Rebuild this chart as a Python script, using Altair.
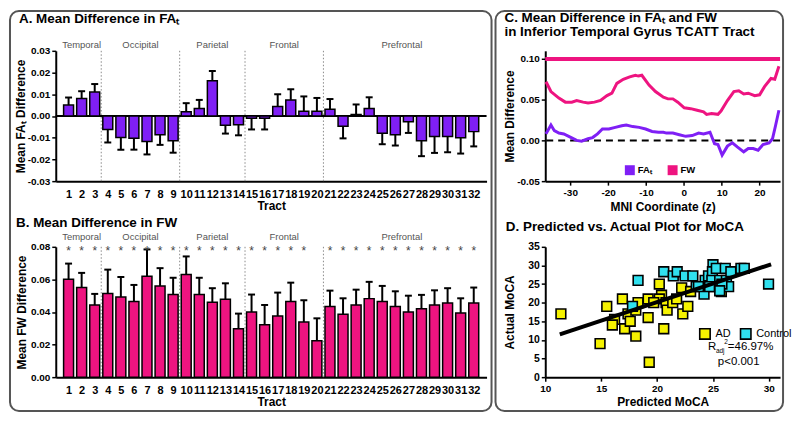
import altair as alt
import pandas as pd

# ---------------- data ----------------
tracts = list(range(1, 33))
fa_mean = [0.0050, 0.0080, 0.0110, -0.0062, -0.0099, -0.0103, -0.0118, -0.0086, -0.0114,
           0.0019, 0.0034, 0.0162, -0.0043, -0.0040, -0.0010, -0.0010, 0.0044, 0.0074,
           0.0022, 0.0022, 0.0031, -0.0047, 0.0007, 0.0034, -0.0080, -0.0086, -0.0027,
           -0.0114, -0.0095, -0.0095, -0.0100, -0.0072]
fa_err = [0.0035, 0.0034, 0.0037, 0.0060, 0.0056, 0.0052, 0.0059, 0.0047, 0.0055,
          0.0040, 0.0040, 0.0045, 0.0038, 0.0049, 0.0052, 0.0052, 0.0056, 0.0049,
          0.0068, 0.0061, 0.0047, 0.0056, 0.0046, 0.0052, 0.0050, 0.0050, 0.0051,
          0.0071, 0.0075, 0.0072, 0.0073, 0.0068]
fw_mean = [0.0601, 0.0550, 0.0443, 0.0513, 0.0492, 0.0464, 0.0620, 0.0560, 0.0507,
           0.0630, 0.0507, 0.0459, 0.0478, 0.0297, 0.0400, 0.0322, 0.0375, 0.0464,
           0.0338, 0.0224, 0.0433, 0.0386, 0.0443, 0.0482, 0.0464, 0.0433, 0.0400,
           0.0420, 0.0443, 0.0455, 0.0394, 0.0455]
fw_err = [0.0096, 0.0090, 0.0068, 0.0147, 0.0123, 0.0102, 0.0164, 0.0109, 0.0103,
          0.0111, 0.0103, 0.0087, 0.0098, 0.0093, 0.0107, 0.0121, 0.0144, 0.0116,
          0.0134, 0.0137, 0.0098, 0.0098, 0.0094, 0.0103, 0.0096, 0.0094, 0.0100,
          0.0085, 0.0090, 0.0091, 0.0090, 0.0095]
fw_significant = [1] * 19 + [0] + [1] * 12

region_names = ["Temporal", "Occipital", "Parietal", "Frontal", "Prefrontal"]
region_first = [1, 4, 10, 15, 21]
region_last = [3, 9, 14, 20, 32]

# Panel C: mean difference along the inferior temporal gyrus tract
fw_z = [-36.4, -35.1, -33.0, -31.3, -29.6, -28.3, -26.6, -25.3, -23.6, -22.0, -20.3, -19.0,
        -17.7, -16.0, -14.3, -12.8, -12.0, -11.1, -9.2, -7.5, -5.4, -4.2, -2.9, -1.6, 0.1,
        1.8, 3.5, 5.2, 6.0, 7.3, 9.0, 9.8, 11.5, 13.2, 14.5, 15.8, 17.0, 18.7, 20.0, 21.3,
        23.0, 24.0, 25.1]
fw_val = [0.072, 0.060, 0.052, 0.047, 0.047, 0.049, 0.047, 0.046, 0.047, 0.049, 0.055, 0.058,
          0.070, 0.075, 0.078, 0.080, 0.079, 0.080, 0.068, 0.060, 0.053, 0.051, 0.051, 0.047,
          0.040, 0.039, 0.037, 0.035, 0.032, 0.033, 0.032, 0.036, 0.049, 0.060, 0.061, 0.057,
          0.058, 0.055, 0.056, 0.066, 0.076, 0.075, 0.091]
fa_z = [-36.4, -35.1, -34.2, -33.0, -31.7, -30.0, -28.3, -27.0, -25.3, -24.1, -22.8, -21.5,
        -19.8, -18.1, -16.4, -15.2, -13.5, -11.8, -10.1, -8.4, -6.7, -5.4, -4.6, -2.9, -1.2,
        0.5, 2.2, 3.9, 5.2, 6.9, 8.1, 9.0, 10.1, 11.5, 12.8, 14.1, 15.8, 17.0, 18.3, 19.6,
        20.9, 22.5, 23.4, 24.2, 25.1]
fa_val = [0.008, 0.019, 0.012, 0.009, 0.008, 0.004, 0.000, -0.001, 0.002, 0.0035, 0.008, 0.014,
          0.014, 0.016, 0.018, 0.019, 0.017, 0.016, 0.014, 0.011, 0.010, 0.010, 0.009, 0.009,
          0.007, 0.005, 0.006, 0.009, 0.008, 0.010, -0.004, -0.005, -0.018, -0.007, -0.003,
          -0.008, -0.014, -0.010, -0.010, -0.012, -0.005, -0.003, 0.002, 0.018, 0.037]
sig_level = [0.10]

# Panel D: predicted vs actual MoCA
ad_pred = [11.4, 15.5, 14.9, 16.2, 16.0, 16.9, 17.1, 17.4, 17.6, 18.1, 18.1, 18.3, 19.2, 19.2,
           19.3, 20.2, 20.4, 20.6, 20.2, 20.8, 20.9, 21.4, 21.75, 22.3, 22.2, 22.75, 23.0,
           25.75, 19.7]
ad_actual = [17, 19, 9, 15.5, 14, 21, 13, 17, 15, 11, 18, 20, 21, 16,
             4, 25, 22, 13, 21, 20, 18, 20, 21, 17, 24, 19, 23,
             23, 20]
ctrl_pred = [18.3, 17.8, 20.6, 21.45, 21.8, 22.5, 23.2, 23.5, 24.2, 24.3, 24.6, 25.0, 24.95,
             25.3, 24.9, 25.1, 25.6, 26.1, 26.2, 26.4, 26.6, 27.5, 27.8, 29.97, 25.8, 25.6,
             23.7, 24.7]
ctrl_actual = [26, 19, 28.3, 27.2, 28.3, 27.2, 27.2, 24.3, 22.3, 26, 27.2, 30.2, 28.3,
               29.2, 26, 24.3, 26, 29.2, 26, 24.3, 28.3, 29.2, 29.2, 25, 25, 23.2,
               24.3, 24.3]
fit_pred = [11.3, 30.2]
fit_actual = [11.5, 30.3]

# ---------------- styling ----------------
PURPLE = "#7F1FF5"
PINK = "#EE1480"
YELLOW = "#F5F200"
CYAN = "#30E0EE"
GREY = "#555555"
FRAME = "#555555"
MINUS_FIX = "replace(datum.label, '\u2212', '-')"

LW = 433      # width of panels A/B
RW = 236      # width of panels C/D
PH = 131      # height of each plot area
FRAME_TOP = -40
FRAME_BOTTOM = 362

tract_df = pd.DataFrame({"tract": tracts, "fa": fa_mean, "fa_err": fa_err,
                         "fw": fw_mean, "fw_err": fw_err, "sig": fw_significant})
tract_df["fa_end"] = [m + (e if m >= 0 else -e) for m, e in zip(fa_mean, fa_err)]
tract_df["fw_end"] = tract_df["fw"] + tract_df["fw_err"]
tract_df["zero"] = 0.0
region_df = pd.DataFrame({"name": region_names,
                          "tract": [(a + b) / 2 for a, b in zip(region_first, region_last)]})
sep_df = pd.DataFrame({"tract": [f - 0.5 for f in region_first[1:]]})
star_df = tract_df[tract_df["sig"] == 1].assign(star="*")
one_row = pd.DataFrame({"k": [0], "zero": [0.0]})

x_scale = alt.Scale(domain=[0.4, 32.6], nice=False, zero=False)
x_axis = alt.Axis(values=tracts, tickCount=40, title="Tract", tickSize=0, labelFontSize=11,
                  labelFlush=False, labelOverlap=False, labelPadding=7, titlePadding=1)


def frame(x1, x2, y1, y2):
    return alt.Chart(one_row).mark_rect(fill="transparent", stroke=FRAME, strokeWidth=2,
                                        cornerRadius=9).encode(
        x=alt.value(x1), x2=alt.value(x2), y=alt.value(y1), y2=alt.value(y2))


def bar_panel(col, end_col, ydom, yvals, ytitle, title, color, label_dy, zero_line,
              stars, ytitle_pad, with_frame):
    xe = alt.X("tract:Q", scale=x_scale, axis=x_axis)
    y_scale = alt.Scale(domain=ydom, nice=False, zero=False)
    y_axis = alt.Axis(values=yvals, tickCount=20, format=".2f", title=ytitle,
                      titlePadding=ytitle_pad, labelExpr=MINUS_FIX, labelOverlap=False)
    layers = []
    if with_frame:
        layers.append(frame(-46, LW + 5, FRAME_TOP, FRAME_BOTTOM))
    layers.append(alt.Chart(sep_df).mark_rule(strokeDash=[1.5, 2], color="#8a8a8a",
                                              strokeWidth=1).encode(x=xe))
    if zero_line:
        layers.append(alt.Chart(one_row).mark_rule(color="black", strokeWidth=2)
                      .encode(y=alt.Y("zero:Q", scale=y_scale, axis=y_axis)))
    layers += [
        alt.Chart(tract_df).mark_rule(color="black", strokeWidth=2).encode(
            x=xe, y=alt.Y(f"{col}:Q", scale=y_scale, axis=y_axis), y2=f"{end_col}:Q"),
        alt.Chart(tract_df).mark_tick(orient="horizontal", color="black", size=7,
                                      thickness=2, opacity=1).encode(
            x=xe, y=alt.Y(f"{end_col}:Q", scale=y_scale, axis=y_axis)),
        alt.Chart(tract_df).mark_bar(width=10, color=color, stroke="black",
                                     strokeWidth=1.5).encode(
            x=xe, y=alt.Y(f"{col}:Q", scale=y_scale, axis=y_axis), y2="zero:Q"),
        alt.Chart(region_df).mark_text(fontSize=9.5, color=GREY, baseline="middle",
                                       dy=label_dy).encode(
            x=xe, y=alt.datum(ydom[1]), text="name:N"),
    ]
    if stars:
        layers.append(alt.Chart(star_df).mark_text(fontSize=12, color="#444444",
                                                   baseline="middle", dy=4).encode(
            x=xe, y=alt.datum(ydom[1]), text="star:N"))
    return alt.layer(*layers).properties(width=LW, height=PH, title=title)


panel_a = bar_panel("fa", "fa_end", [-0.03, 0.03], [-0.03, -0.02, -0.01, 0, 0.01, 0.02, 0.03],
                    "Mean FAₜ Difference",
                    alt.TitleParams("A. Mean Difference in FAₜ", offset=-16, dx=10),
                    PURPLE, -6, True, False, 0, True)
panel_b = bar_panel("fw", "fw_end", [0, 0.08], [0, 0.02, 0.04, 0.06, 0.08],
                    "Mean FW Difference",
                    alt.TitleParams("B. Mean Difference in FW", offset=2.5),
                    PINK, -10, False, True, 1.5, False)

# ---- Panel C ----
lines_df = pd.concat([
    pd.DataFrame({"z": fa_z, "val": fa_val, "measure": "FAₜ"}),
    pd.DataFrame({"z": fw_z, "val": fw_val, "measure": "FW"}),
])
xc = alt.X("z:Q", scale=alt.Scale(domain=[-36.6, 25.4], nice=False, zero=False),
           axis=alt.Axis(values=[-30, -20, -10, 0, 10, 20], tickCount=20,
                         title="MNI Coordinate (z)", labelFlush=False, titlePadding=5,
                         labelExpr=MINUS_FIX))
yc_scale = alt.Scale(domain=[-0.05, 0.11], nice=False, zero=False)
yc_axis = alt.Axis(values=[-0.05, 0, 0.05, 0.1], tickCount=20, format=".2f",
                   title="Mean Difference", titlePadding=0, labelExpr=MINUS_FIX,
                   labelOverlap=False)
panel_c = alt.layer(
    frame(-50, RW + 3, FRAME_TOP, FRAME_BOTTOM),
    alt.Chart(pd.DataFrame({"val": sig_level})).mark_rule(color=PINK, strokeWidth=4)
    .encode(y=alt.Y("val:Q", scale=yc_scale, axis=yc_axis)),
    alt.Chart(pd.DataFrame({"val": [0.0]})).mark_rule(color="black", strokeWidth=2,
                                                    strokeDash=[7, 5])
    .encode(y=alt.Y("val:Q", scale=yc_scale, axis=yc_axis)),
    alt.Chart(lines_df).mark_line(strokeWidth=3).encode(
        x=xc, y=alt.Y("val:Q", scale=yc_scale, axis=yc_axis),
        stroke=alt.Stroke("measure:N",
                          scale=alt.Scale(domain=["FAₜ", "FW"], range=[PURPLE, PINK]),
                          legend=alt.Legend(orient="none", legendX=80, legendY=115,
                                            direction="horizontal", title=None,
                                            symbolType="square", symbolSize=16,
                                            symbolStrokeWidth=6, labelFontSize=9.5,
                                            labelFontWeight="bold", columnPadding=6,
                                            labelOffset=3)),
        order="z:Q"),
).properties(width=RW, height=PH, title=alt.TitleParams(
    ["C. Mean Difference in FAₜ and FW",
     "\u00a0\u00a0\u00a0\u00a0\u2009in Inferior Temporal Gyrus TCATT Tract"],
    offset=-29, dx=10, lineHeight=14))

# ---- Panel D ----
pts_df = pd.concat([
    pd.DataFrame({"pred": ad_pred, "actual": ad_actual, "group": "AD"}),
    pd.DataFrame({"pred": ctrl_pred, "actual": ctrl_actual, "group": "Control"}),
])
fit_df = pd.DataFrame({"pred": fit_pred, "actual": fit_actual})
xd = alt.X("pred:Q", scale=alt.Scale(domain=[10, 31], nice=False, zero=False),
           axis=alt.Axis(values=[10, 15, 20, 25, 30], tickCount=20, title="Predicted MoCA",
                         labelFlush=False, titlePadding=3))
yd = alt.Y("actual:Q", scale=alt.Scale(domain=[0, 35], nice=False),
           axis=alt.Axis(values=[0, 5, 10, 15, 20, 25, 30, 35], tickCount=20,
                         title="Actual MoCA", titlePadding=11, labelFontSize=10.5,
                         labelOverlap=False))
ann_df = pd.DataFrame({"pred": [24.55], "actual": [8.0]})
p_df = pd.DataFrame({"pred": [27.3], "actual": [4.1]})
panel_d = alt.layer(
    alt.Chart(pts_df).mark_square(size=95, stroke="black", strokeWidth=1.6, opacity=1).encode(
        x=xd, y=yd,
        fill=alt.Fill("group:N", scale=alt.Scale(domain=["AD", "Control"],
                                                 range=[YELLOW, CYAN]),
                      legend=alt.Legend(orient="none", legendX=154, legendY=81,
                                        direction="horizontal", title=None,
                                        symbolType="square", symbolSize=110,
                                        symbolStrokeColor="black", symbolStrokeWidth=1.6,
                                        labelFontSize=11, labelFontWeight="normal",
                                        columnPadding=6, labelOffset=4))),
    alt.Chart(fit_df).mark_line(color="black", strokeWidth=4).encode(x=xd, y=yd),
    alt.Chart(ann_df).mark_text(text="R", fontSize=11.5, align="left", baseline="middle")
    .encode(x=xd, y=yd),
    alt.Chart(ann_df).mark_text(text="adj", fontSize=6.5, align="left", baseline="middle",
                                dx=8, dy=4).encode(x=xd, y=yd),
    alt.Chart(ann_df).mark_text(text="2", fontSize=6.5, align="left", baseline="middle",
                                dx=16.5, dy=-5).encode(x=xd, y=yd),
    alt.Chart(ann_df).mark_text(text="=46.97%", fontSize=11.5, align="left",
                                baseline="middle", dx=20).encode(x=xd, y=yd),
    alt.Chart(p_df).mark_text(text="p<0.001", fontSize=11.5, align="center",
                              baseline="middle").encode(x=xd, y=yd),
).properties(width=RW, height=PH,
             title=alt.TitleParams("D. Predicted vs. Actual Plot for MoCA", offset=8, dx=2))

chart = alt.concat(
    panel_a, panel_c, panel_b, panel_d, columns=2,
    spacing={"row": 66, "column": 59}, bounds="flush",
).resolve_scale(
    x="independent", y="independent", stroke="independent", fill="independent"
).resolve_legend(stroke="independent", fill="independent").properties(
    padding={"left": 1, "top": 1, "right": 0, "bottom": 0}
).configure(font="Liberation Sans").configure_view(stroke=None).configure_axis(
    domainColor="black", domainWidth=2, tickColor="black", tickWidth=1.5, tickSize=4,
    labelColor="black", labelFontWeight="bold", labelFontSize=10, labelPadding=2,
    titleColor="black", titleFontSize=12, titleFontWeight="bold", grid=False,
    labelOverlap=False
).configure_title(fontSize=13.5, fontWeight="bold", anchor="start", frame="bounds",
                  color="black").configure_legend(labelColor="black")

chart.save("out.html", embed_options={"renderer": "svg", "actions": False})
